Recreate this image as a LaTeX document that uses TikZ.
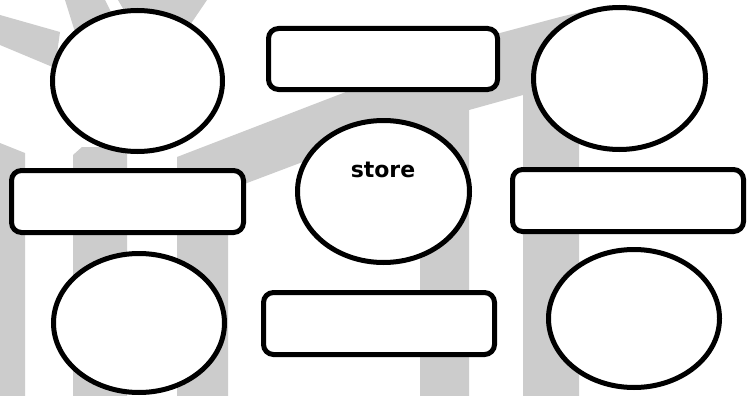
\documentclass[tikz,border=0pt]{standalone}
\usepackage{fontspec}
\setmainfont{DejaVu Sans}
\usetikzlibrary{shapes.geometric}
\definecolor{wmgray}{RGB}{204,204,204}
\tikzset{
  wm/.style={fill=wmgray, draw=none},
  oval/.style={ellipse, draw=black, line width=5pt, fill=white, inner sep=0pt},
  box/.style={rectangle, rounded corners=10pt, draw=black, line width=5pt, fill=white, inner sep=0pt},
  lbl/.style={font=\fontsize{22}{24}\selectfont\bfseries, inner sep=0pt}
}
\begin{document}
\begin{tikzpicture}[x=1pt,y=-1pt]
\useasboundingbox (0,0) rectangle (752,396);
\fill[white] (0,0) rectangle (752,396);
% watermark
\fill[wm] (0,15) -- (60,32) -- (55,68) -- (0,45) -- cycle;
\fill[wm] (65,0) -- (105,0) -- (115,20) -- (75,32) -- cycle;
\fill[wm] (118,0) -- (207,0) -- (190,25) -- (125,12) -- cycle;
\fill[wm] (0,143) -- (25,153) -- (25,396) -- (0,396) -- cycle;
\fill[wm] (73,155) -- (82,147) -- (127,147) -- (127,396) -- (73,396) -- cycle;
\fill[wm] (177,396) -- (177,157) -- (338,95) -- (500,33) -- (560,17) -- (610,5)
  -- (620,60) -- (579,100) -- (579,396) -- (523,396) -- (523,95) -- (469,110)
  -- (469,396) -- (420,396) -- (420,126) -- (300,163) -- (247,183) -- (228,190)
  -- (228,396) -- cycle;
% shapes
\node[oval, minimum width=170pt, minimum height=141pt] (tl) at (137.5,81) {};
\node[oval, minimum width=172pt, minimum height=142pt] (tr) at (619.5,78.5) {};
\node[oval, minimum width=172pt, minimum height=142pt] (c) at (383.5,191.5) {};
\node[oval, minimum width=171pt, minimum height=139pt] (bl) at (139,323) {};
\node[oval, minimum width=171pt, minimum height=138pt] (br) at (634,318.5) {};
\node[box, minimum width=229pt, minimum height=61pt] (top) at (383,59) {};
\node[box, minimum width=232pt, minimum height=62pt] (left) at (127.5,201.5) {};
\node[box, minimum width=231pt, minimum height=62pt] (right) at (628,200.5) {};
\node[box, minimum width=231pt, minimum height=62pt] (bottom) at (379,323.5) {};
\node[lbl] (store) at (383,170) {store};
\end{tikzpicture}
\end{document}
